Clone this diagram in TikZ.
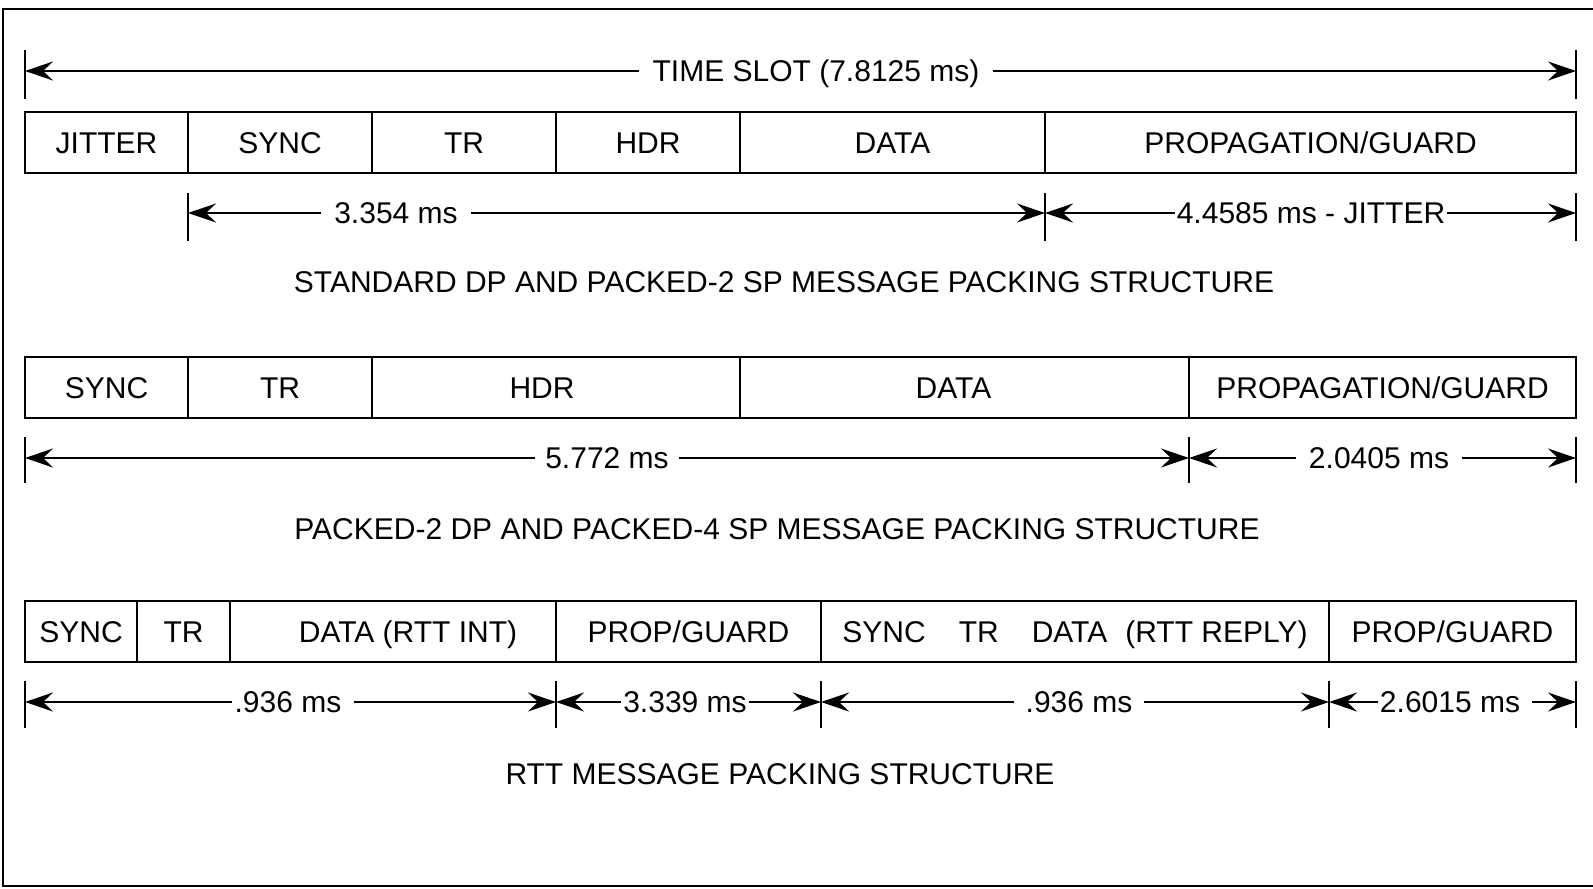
\documentclass[tikz,border=0pt]{standalone}
\usepackage{fontspec}
\setmainfont{Liberation Sans}
\usetikzlibrary{arrows.meta,positioning}
\tikzset{
  cell/.style={draw,line width=1.4pt,minimum height=30.5pt,inner sep=0pt,outer sep=0pt,text height=10.7pt,text depth=0pt},
  dimtxt/.style={inner xsep=#1,inner ysep=0pt,text height=10.7pt,text depth=0pt},
  dimtxt/.default=6pt,
}
\begin{document}
\begin{tikzpicture}[x=0.5pt,y=-0.5pt,line width=1.2pt,>={Stealth[length=14pt,width=9.5pt,inset=5pt]},font=\fontsize{15}{18}\selectfont]
	\useasboundingbox (0,0) rectangle (1593,888);
	\draw[line width=1.4pt] (1593,9) -- (3,9) -- (3,886) -- (1593,886);
	\foreach \x in {25,1576}\draw[line width=1.4pt] (\x,50)--(\x,99);
	\coordinate (ts0) at (25,71);
	\coordinate (ts1) at (1576,71);
	\node[dimtxt] (slot) at (816,71) {TIME SLOT (7.8125 ms)};
	\draw[->] (slot) -- (ts0);
	\draw[->] (slot) -- (ts1);
	\node[cell,minimum width=81.5pt,anchor=west] (jit) at (25,142.5) {JITTER};
	\node[cell,minimum width=92pt,right=0pt of jit] (sync1) {SYNC};
	\node[cell,minimum width=92pt,right=0pt of sync1] (tr1) {TR};
	\node[cell,minimum width=92pt,right=0pt of tr1] (hdr1) {HDR};
	\node[cell,minimum width=152.5pt,right=0pt of hdr1] (data1) {DATA};
	\node[cell,minimum width=265.5pt,right=0pt of data1] (prop1) {PROPAGATION/GUARD};
	\foreach \x in {188,1045,1576}\draw[line width=1.4pt] (\x,193)--(\x,241);
	\coordinate (da1) at (188,213);
	\coordinate (da2) at (1045,213);
	\coordinate (da3) at (1576,213);
	\node[dimtxt] (msa) at (396,213) {3.354 ms};
	\node[dimtxt=0.5pt] (msb) at (1311,213) {4.4585 ms - JITTER};
	\draw[->] (msa) -- (da1);
	\draw[->] (msa) -- (da2);
	\draw[->] (msb) -- (da2);
	\draw[->] (msb) -- (da3);
	\node (capa) at (784,282) {STANDARD DP AND PACKED-2 SP MESSAGE PACKING STRUCTURE};
	\node[cell,minimum width=81.5pt,anchor=west] (sync2) at (25,387.5) {SYNC};
	\node[cell,minimum width=92pt,right=0pt of sync2] (tr2) {TR};
	\node[cell,minimum width=184pt,right=0pt of tr2] (hdr2) {HDR\hspace*{14pt}};
	\node[cell,minimum width=224.5pt,right=0pt of hdr2] (data2) {DATA\hspace*{11pt}};
	\node[cell,minimum width=193.5pt,right=0pt of data2] (prop2) {PROPAGATION/GUARD};
	\foreach \x in {25,1189,1576}\draw[line width=1.4pt] (\x,437)--(\x,483);
	\coordinate (db1) at (25,458);
	\coordinate (db2) at (1189,458);
	\coordinate (db3) at (1576,458);
	\node[dimtxt=4.5pt] (msc) at (607,458) {5.772 ms};
	\node[dimtxt] (msd) at (1379,458) {2.0405 ms};
	\draw[->] (msc) -- (db1);
	\draw[->] (msc) -- (db2);
	\draw[->] (msd) -- (db2);
	\draw[->] (msd) -- (db3);
	\node (capb) at (777,529) {PACKED-2 DP AND PACKED-4 SP MESSAGE PACKING STRUCTURE};
	\node[cell,minimum width=56pt,anchor=west] (sync3) at (25,631.5) {SYNC};
	\node[cell,minimum width=46.5pt,right=0pt of sync3] (tr3) {TR};
	\node[cell,minimum width=163pt,right=0pt of tr3] (int3) {\hspace*{15pt}DATA (RTT INT)};
	\node[cell,minimum width=132.5pt,right=0pt of int3] (propa3) {PROP/GUARD};
	\node[cell,minimum width=254pt,right=0pt of propa3] (reply3) {SYNC\hspace{1.1em}TR\hspace{1.1em}DATA\hspace{0.6em}(RTT REPLY)};
	\node[cell,minimum width=123.5pt,right=0pt of reply3] (propb3) {PROP/GUARD};
	\foreach \x in {25,556,821,1329,1576}\draw[line width=1.4pt] (\x,681)--(\x,728);
	\coordinate (dc1) at (25,702);
	\coordinate (dc2) at (556,702);
	\coordinate (dc3) at (821,702);
	\coordinate (dc4) at (1329,702);
	\coordinate (dc5) at (1576,702);
	\node[dimtxt=0.5pt] (mse) at (293,702) {.936 ms\hspace*{5pt}};
	\node[dimtxt=0.5pt] (msf) at (685,702) {3.339 ms};
	\node[dimtxt=5pt] (msg) at (1079,702) {.936 ms};
	\node[dimtxt=0.5pt] (msh) at (1455,702) {2.6015 ms\hspace*{5pt}};
	\draw[->] (mse) -- (dc1);
	\draw[->] (mse) -- (dc2);
	\draw[->] (msf) -- (dc2);
	\draw[->] (msf) -- (dc3);
	\draw[->] (msg) -- (dc3);
	\draw[->] (msg) -- (dc4);
	\draw[->] (msh) -- (dc4);
	\draw[->] (msh) -- (dc5);
	\node (capc) at (780,774) {RTT MESSAGE PACKING STRUCTURE};
\end{tikzpicture}
\end{document}
